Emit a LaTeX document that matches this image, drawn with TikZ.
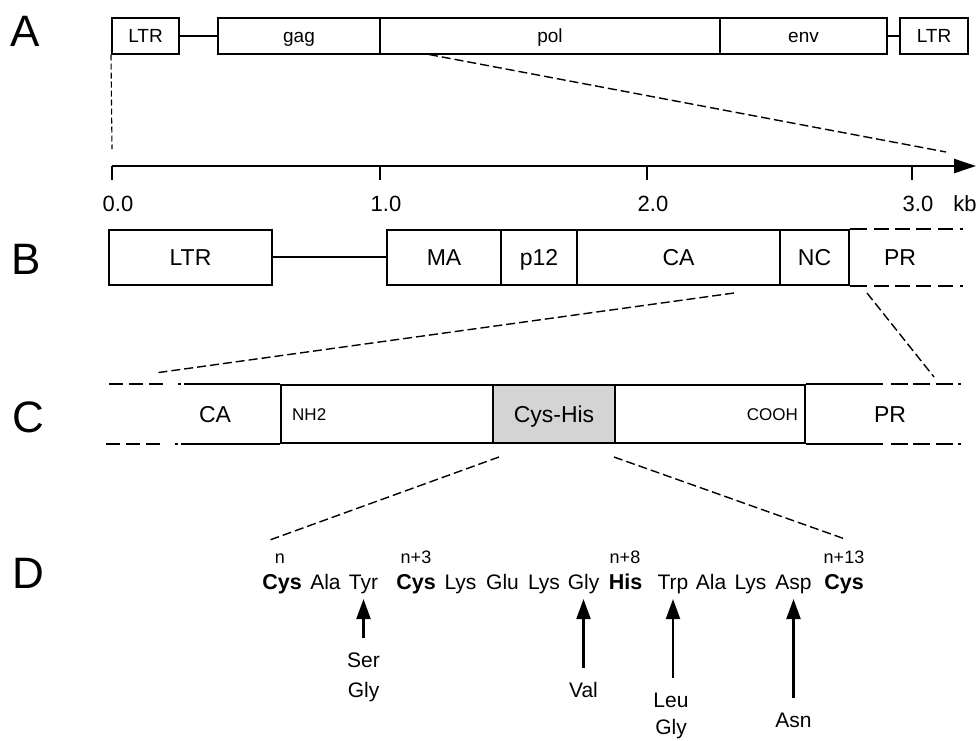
\documentclass[tikz,border=0pt]{standalone}
\usepackage{fontspec}
\setmainfont{Liberation Sans}
\usetikzlibrary{arrows.meta,positioning}

\begin{document}
\begin{tikzpicture}[x=1pt,y=-1pt,
  panel/.style={inner sep=0pt, font=\fontsize{44}{44}\selectfont},
  gbox/.style={draw, line width=2pt, rectangle, minimum height=36pt, inner sep=0pt,
    text height=13.5pt, text depth=0pt, font=\fontsize{19}{21}\selectfont},
  pbox/.style={draw, line width=2pt, rectangle, minimum height=55pt, inner sep=0pt,
    text height=16.5pt, text depth=0pt, font=\fontsize{23}{25}\selectfont},
  cbox/.style={draw, line width=2pt, rectangle, minimum height=58pt, inner sep=0pt,
    text height=16.5pt, text depth=0pt, font=\fontsize{23}{25}\selectfont},
  plbl/.style={inner sep=0pt, text height=16.5pt, text depth=0pt, font=\fontsize{23}{25}\selectfont},
  smalllbl/.style={inner sep=0pt, text height=12pt, text depth=0pt, font=\fontsize{17}{19}\selectfont},
  numlbl/.style={inner sep=0pt, font=\fontsize{22}{24}\selectfont},
  band/.style={line width=2pt},
  bopen/.style={line width=2pt, dash pattern=on 0pt off 7pt on 15pt off 6pt on 15pt off 6pt on 15pt off 7pt on 15pt off 7pt on 3pt off 30pt},
  lopen/.style={line width=2pt, dash pattern=on 0pt off 3pt on 3pt off 15pt on 14pt off 6pt on 14pt off 6pt on 14pt off 30pt},
  ropen/.style={line width=2pt, dash pattern=on 0pt off 8pt on 17pt off 5pt on 17pt off 6pt on 17pt off 5pt on 3pt off 30pt},
  zoomline/.style={line width=1.4pt, dash pattern=on 9pt off 4pt},
  res/.style={anchor=base, inner sep=2pt, font=\fontsize{21}{24}\selectfont},
  keyres/.style={res, font=\fontsize{21.5}{24}\selectfont\bfseries},
  resnum/.style={anchor=base, inner sep=0pt, font=\fontsize{18}{20}\selectfont},
  mut/.style={anchor=base, inner sep=2pt, font=\fontsize{21}{24}\selectfont},
  mutarrow/.style={-{Triangle[length=20pt,width=14pt]}, line width=2.2pt, shorten <=12pt, shorten >=3.5pt}
]
  \useasboundingbox (0,0) rectangle (977,740);

  % panel letters
  \node[panel] (la) at (25,31) {A};
  \node[panel] (lb) at (26,259) {B};
  \node[panel] (lc) at (28,417) {C};
  \node[panel] (ld) at (28.5,573) {D};

  % A: provirus
  \node[gbox, minimum width=67pt] (ltr5) at (145.5,35.5) {LTR};
  \node[gbox, minimum width=162pt] (gag) at (299,35.5) {gag};
  \node[gbox, minimum width=340pt] (pol) at (550,35.5) {pol};
  \node[gbox, minimum width=167pt] (env) at (803.5,35.5) {env};
  \node[gbox, minimum width=68pt] (ltr3) at (934,35.5) {LTR};
  \draw[band] (ltr5.east) -- (gag.west);
  \draw[band] (env.east) -- (ltr3.west);

  % zoom A -> scale
  \coordinate (ltrfoot) at (112,149);
  \coordinate (axcut) at (946,152);
  \draw[line width=1.1pt, dash pattern=on 6pt off 3pt] (ltr5.south west) -- (ltrfoot);
  \draw[zoomline] ([xshift=50pt]pol.south west) -- (axcut);

  % kb scale
  \coordinate (ax0) at (112,166);
  \coordinate (axend) at (976,166);
  \draw[-{Triangle[length=22pt,width=14pt]}, line width=2.4pt] (ax0) -- (axend);
  \foreach \x/\t [count=\i] in {112/0.0, 380/1.0, 647/2.0, 912/3.0} {
    \draw[line width=2.4pt] (\x,166) -- (\x,180);
    \node[numlbl] (kb\i) at (\x+6,204) {\t};
  }
  \node[numlbl] (kbunit) at (965,204) {kb};

  % B: gag region
  \node[pbox, minimum width=163pt] (ltrB) at (190.5,257) {LTR};
  \node[pbox, minimum width=114pt] (ma) at (444,257) {MA};
  \node[pbox, minimum width=76pt] (p12) at (539,257) {p12};
  \node[pbox, minimum width=203pt] (caB) at (678.5,257) {CA};
  \node[pbox, minimum width=69pt] (nc) at (814.5,257) {NC};
  \node[plbl] (prB) at (900,257) {PR};
  \draw[band] (ltrB.east) -- (ma.west);
  \draw[band] (nc.north east) -- ++(17,0) coordinate (prBtop);
  \draw[bopen] (prBtop) -- ++(96,0);
  \draw[band] (nc.south east) -- ++(17,0) coordinate (prBbot);
  \draw[bopen] (prBbot) -- ++(96,0);

  % zoom B -> C
  \coordinate (bca) at (734,293);
  \coordinate (cca) at (155,373);
  \coordinate (bpr) at (867,293);
  \coordinate (cpr) at (934,377);
  \draw[zoomline] (bca) -- (cca);
  \draw[zoomline] (bpr) -- (cpr);

  % C: CA protein
  \node[cbox, minimum width=212pt] (nterm) at (387,414) {};
  \node[cbox, minimum width=122pt, fill=black!17] (cyshis) at (554,414) {Cys-His};
  \node[cbox, minimum width=190pt] (cterm) at (710,414) {};
  \node[plbl] (caC) at (215,414) {CA};
  \node[plbl] (prC) at (890,414) {PR};
  \node[smalllbl, anchor=west] (nh2) at ([xshift=12pt]nterm.west) {NH2};
  \node[smalllbl, anchor=east] (cooh) at ([xshift=-8pt]cterm.east) {COOH};
  \draw[band] (nterm.north west) -- ++(-96,0) coordinate (ctl);
  \draw[lopen] (ctl) -- ++(-75,0);
  \draw[band] (nterm.south west) -- ++(-99,0) coordinate (cbl);
  \draw[lopen] (cbl) -- ++(-75,0);
  \draw[band] (cterm.north east) -- ++(77,0) coordinate (ctr);
  \draw[ropen] (ctr) -- ++(78,0);
  \draw[band] (cterm.south east) -- ++(77,0) coordinate (cbr);
  \draw[ropen] (cbr) -- ++(78,0);

  % zoom C -> D
  \coordinate (chl) at (499,457);
  \coordinate (dl) at (267,541);
  \coordinate (chr) at (614,457);
  \coordinate (dr) at (845,539);
  \draw[zoomline] (chl) -- (dl);
  \draw[zoomline] (chr) -- (dr);

  % D: Cys-His box sequence
  \foreach \x/\r/\s [count=\i] in {282/Cys/keyres, 325.5/Ala/res, 363.5/Tyr/res,
      416/Cys/keyres, 460.5/Lys/res, 502.5/Glu/res, 544/Lys/res, 583.5/Gly/res,
      625.5/His/keyres, 673/Trp/res, 711/Ala/res, 750.5/Lys/res, 793.5/Asp/res,
      844/Cys/keyres}
    \node[\s] (r\i) at (\x,589) {\r};
  \node[resnum] (n0) at (280,563) {n};
  \node[resnum] (n3) at (416,563) {n+3};
  \node[resnum] (n8) at (625,563) {n+8};
  \node[resnum] (n13) at (844,563) {n+13};

  % substitutions
  \node[mut] (ser) at (363.5,667) {Ser};
  \node[mut] (gly1) at (363.5,697) {Gly};
  \node[mut] (val) at (583.5,697) {Val};
  \node[mut] (leu) at (671,707) {Leu};
  \node[mut] (gly2) at (671,734) {Gly};
  \node[mut] (asn) at (793.5,727) {Asn};
  \draw[mutarrow] (ser.north) -- (r3.south);
  \draw[mutarrow] (val.north) -- (r8.south);
  \draw[mutarrow] (leu.north -| r10.south) -- (r10.south);
  \draw[mutarrow] (asn.north) -- (r13.south);
\end{tikzpicture}
\end{document}
